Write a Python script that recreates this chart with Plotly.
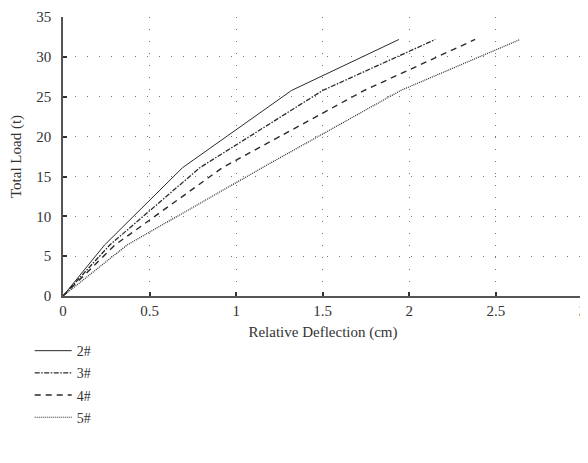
import plotly.graph_objects as go

loads = [0, 6.4, 16.1, 25.8, 32.2]
defl_2 = [0, 0.24, 0.69, 1.32, 1.94]
defl_3 = [0, 0.27, 0.79, 1.50, 2.15]
defl_4 = [0, 0.30, 0.92, 1.74, 2.38]
defl_5 = [0, 0.37, 1.15, 1.95, 2.64]
names = ["2#", "3#", "4#", "5#"]
x_ticks = [0, 0.5, 1, 1.5, 2, 2.5, 3]
x_tick_text = ["0", "0.5", "1", "1.5", "2", "2.5", "3"]
y_ticks = [0, 5, 10, 15, 20, 25, 30, 35]

series = [defl_2, defl_3, defl_4, defl_5]
dashes = ["solid", "5px,1.5px,1.5px,1.5px", "6px,5px", "1px,1px"]
widths = [1, 1.3, 1.4, 1.2]

fig = go.Figure()
for xs, nm, d, w in zip(series, names, dashes, widths):
    fig.add_trace(go.Scatter(x=xs, y=loads, name=nm, mode="lines", legendgroup=nm,
                             line=dict(color="#2a2a2a", width=w, dash=d)))

font = "Liberation Serif, Times New Roman, serif"
# page body has an 8px default margin; figure sized/offset to compensate
fig.update_layout(
    width=580, height=455,
    margin=dict(l=55, r=5, t=9, b=167),
    paper_bgcolor="white", plot_bgcolor="white",
    font=dict(family=font, size=15, color="#333"),
    showlegend=True,
    legend=dict(x=-0.064, y=-0.14, xanchor="left", yanchor="top",
                font=dict(family=font, size=14, color="#333"),
                tracegroupgap=1, itemwidth=37, bgcolor="rgba(0,0,0,0)"),
    xaxis=dict(range=[0, 3.003], tickvals=x_ticks, ticktext=x_tick_text,
               automargin=False, ticklabeloverflow="allow",
               showline=True, linecolor="#555", linewidth=1.5,
               ticks="inside", ticklen=4, tickwidth=1.5, tickcolor="#333",
               showgrid=True, gridcolor="#777", gridwidth=1, griddash="1px,11px",
               zeroline=False,
               title=dict(text="Relative Deflection (cm)", standoff=9,
                          font=dict(family=font, size=15, color="#333"))),
    yaxis=dict(range=[0, 35.02], tickvals=y_ticks,
               automargin=False, ticklabelstandoff=7,
               showline=True, linecolor="#555", linewidth=1.5,
               ticks="inside", ticklen=4, tickwidth=1.5, tickcolor="#333",
               showgrid=True, gridcolor="#777", gridwidth=1, griddash="1px,11px",
               zeroline=False,
               title=dict(text="Total Load (t)", standoff=15,
                          font=dict(family=font, size=15, color="#333"))),
)
fig.write_html("out.html")
